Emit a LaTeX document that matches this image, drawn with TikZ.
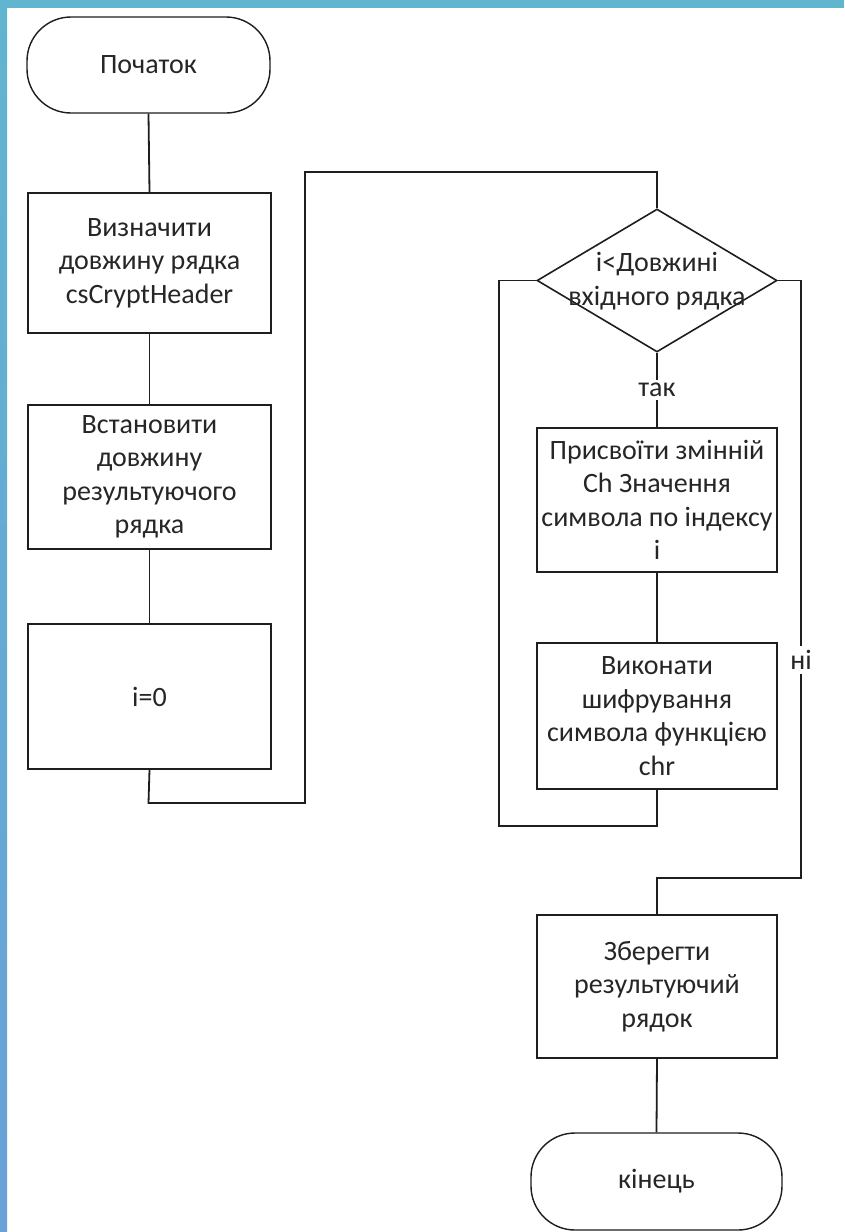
\documentclass[tikz,border=0pt]{standalone}
\usepackage{fontspec}
\setmainfont{Carlito}
\usetikzlibrary{shapes.geometric}
\definecolor{ink}{HTML}{1E1E1E}
\definecolor{txt}{HTML}{262626}
\definecolor{bandtop}{HTML}{61B5CF}
\definecolor{bandbot}{HTML}{6AA1D7}
\begin{document}
\begin{tikzpicture}[x=1pt,y=-1pt,
  every node/.style={font=\fontsize{28}{33.5}\selectfont, text=txt},
  proc/.style={draw=ink, line width=1.6pt, fill=white, align=center, minimum width=243pt, inner sep=2pt},
  term/.style={draw=ink, line width=1.4pt, fill=white, rounded corners=44pt, align=center},
  conn/.style={draw=ink, line width=1.8pt},
  lbl/.style={fill=white, inner sep=3pt}]
\useasboundingbox (0,0) rectangle (844,1232);
\fill[white] (0,0) rectangle (844,1232);
\fill[bandtop] (0,0) rectangle (844,8);
\shade[top color=bandtop, bottom color=bandbot] (0,0) rectangle (7,1232);

\node[term, minimum width=243pt, minimum height=96pt] (start) at (148.5,65) {Початок};
\node[proc, minimum height=140pt] (b1) at (149.5,263) {Визначити\\довжину рядка\\csCryptHeader};
\node[proc, minimum height=144pt] (b2) at (149.5,477) {Встановити\\довжину\\результуючого\\рядка};
\node[proc, minimum height=145pt] (b3) at (149.5,696.5) {i=0};

\node[diamond, draw=ink, line width=1.6pt, minimum width=240pt, minimum height=143pt, inner sep=0pt] (dec) at (657,280.5) {};
\node[align=center] (dect) at (657,281) {i<Довжині\\вхідного рядка};

\node[proc, minimum width=240pt, minimum height=144pt] (b4) at (657,500) {Присвоїти змінній\\Ch Значення\\символа по індексу\\i};
\node[proc, minimum width=240pt, minimum height=146pt] (b5) at (657,716) {Виконати\\шифрування\\символа функцією\\chr};
\node[proc, minimum width=240pt, minimum height=143pt] (b6) at (657,986.5) {Зберегти\\результуючий\\рядок};
\node[term, minimum width=251pt, minimum height=97pt] (end) at (656.5,1181.5) {кінець};

\coordinate (c1) at (148.5,803);
\coordinate (c2) at (305,803);
\coordinate (c3) at (305,172);
\coordinate (c4) at (657,172);
\coordinate (l1) at (499,280.5);
\coordinate (l2) at (499,826);
\coordinate (l3) at (657,826);
\coordinate (r1) at (801,280.5);
\coordinate (r2) at (801,878);
\coordinate (r3) at (657,878);

\draw[conn] (start.south) -- (b1.north);
\draw[conn] (b1.south) -- (b2.north);
\draw[conn] (b2.south) -- (b3.north);
\draw[conn] (b3.south) -- (c1) -- (c2) -- (c3) -- (c4) -- (dec.north);
\draw[conn] (dec.south) -- node[lbl] (yes) {так} (b4.north);
\draw[conn] (b4.south) -- (b5.north);
\draw[conn] (dec.west) -- (l1) -- (l2) -- (l3) -- (b5.south);
\draw[conn] (dec.east) -- (r1) -- (r2) -- (r3) -- (b6.north);
\node[lbl, inner sep=4pt] (no) at (801,660) {ні};
\draw[conn] (b6.south) -- (end.north);
\end{tikzpicture}
\end{document}
